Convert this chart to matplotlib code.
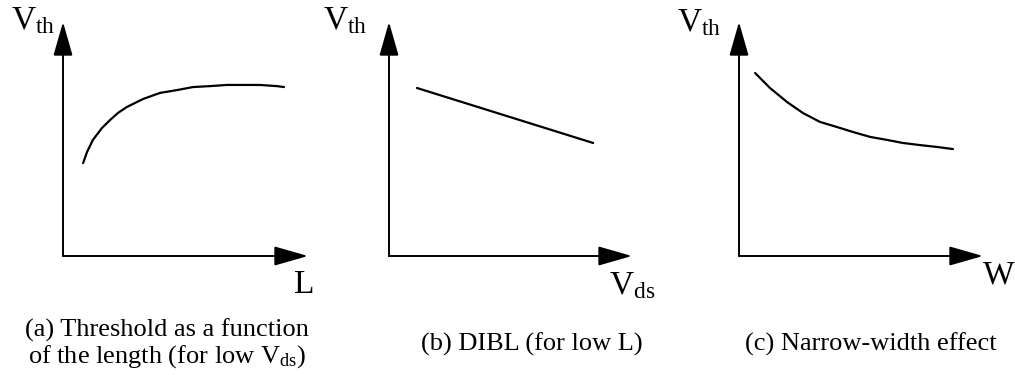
import matplotlib
matplotlib.use('Agg')
import matplotlib.pyplot as plt

plt.rcParams['font.family'] = ['Liberation Serif', 'DejaVu Serif']
plt.rcParams['mathtext.fontset'] = 'custom'
plt.rcParams['mathtext.rm'] = 'Liberation Serif'
plt.rcParams['mathtext.it'] = 'Liberation Serif:italic'

# (a) threshold vs channel length, arbitrary units
length_a = [0.82, 0.98, 1.22, 1.59, 1.92, 2.24, 2.61, 3.27, 3.96, 4.65, 5.31, 6.0, 6.69, 7.35, 8.04, 8.73, 9.02]
vth_a = [3.97, 4.44, 4.96, 5.47, 5.81, 6.11, 6.37, 6.71, 6.97, 7.09, 7.22, 7.26, 7.31, 7.31, 7.31, 7.26, 7.22]

# (b) DIBL: straight line vs Vds
vds_b = [1.15, 8.40]
vth_b = [7.18, 4.83]

# (c) narrow-width effect
width_c = [0.66, 1.27, 1.97, 2.62, 3.32, 4.02, 4.67, 5.37, 6.07, 6.72, 7.42, 8.11, 8.77]
vth_c = [7.82, 7.18, 6.58, 6.11, 5.73, 5.51, 5.30, 5.09, 4.96, 4.83, 4.74, 4.66, 4.57]

W, H = 1015, 375
fig = plt.figure(figsize=(W / 100, H / 100), dpi=100)
fig.patch.set_facecolor('white')


def px(x, y):
    return x / W, 1 - y / H


def panel(x0, x1, y_top, y_axis):
    ax = fig.add_axes([x0 / W, (H - y_axis) / H, (x1 - x0) / W, (y_axis - y_top) / H])
    ax.set_xlim(0, 10)
    ax.set_ylim(0, 10)
    ax.axis('off')
    arrow = dict(arrowstyle='-|>,head_length=2.1,head_width=0.6', mutation_scale=10,
                 lw=1.4, color='black', shrinkA=0, shrinkB=0)
    ax.annotate('', xy=(10, 0), xytext=(0, 0), arrowprops=arrow, annotation_clip=False)
    ax.annotate('', xy=(0, 10), xytext=(0, 0), arrowprops=arrow, annotation_clip=False)
    return ax


curve = dict(color='black', lw=1.6, solid_capstyle='round', solid_joinstyle='round', clip_on=False)

ax_a = panel(63, 308, 22, 256)
ax_a.plot(length_a, vth_a, **curve)

ax_b = panel(389, 632, 22, 256)
ax_b.plot(vds_b, vth_b, **curve)

ax_c = panel(739, 983, 22, 256)
ax_c.plot(width_c, vth_c, **curve)

lab = dict(fontsize=24, va='baseline', ha='left')
fig.text(*px(11, 29), r'V$_\mathrm{th}$', **lab)
fig.text(*px(323, 29), r'V$_\mathrm{th}$', **lab)
fig.text(*px(677, 31), r'V$_\mathrm{th}$', **lab)
fig.text(*px(294, 293), 'L', **lab)
fig.text(*px(609, 294), r'V$_\mathrm{ds}$', **lab)
fig.text(*px(983, 284), 'W', **lab)

cap = dict(fontsize=19, ha='center', va='center')
fig.text(*px(167, 330), '(a) Threshold as a function', **cap)
fig.text(*px(167, 357), r'of the length (for low V$_\mathrm{ds}$)', **cap)
fig.text(*px(532, 344), '(b) DIBL (for low L)', **cap)
fig.text(*px(871, 344), '(c) Narrow-width effect', **cap)

fig.savefig('out.png', dpi=100, facecolor='white')
